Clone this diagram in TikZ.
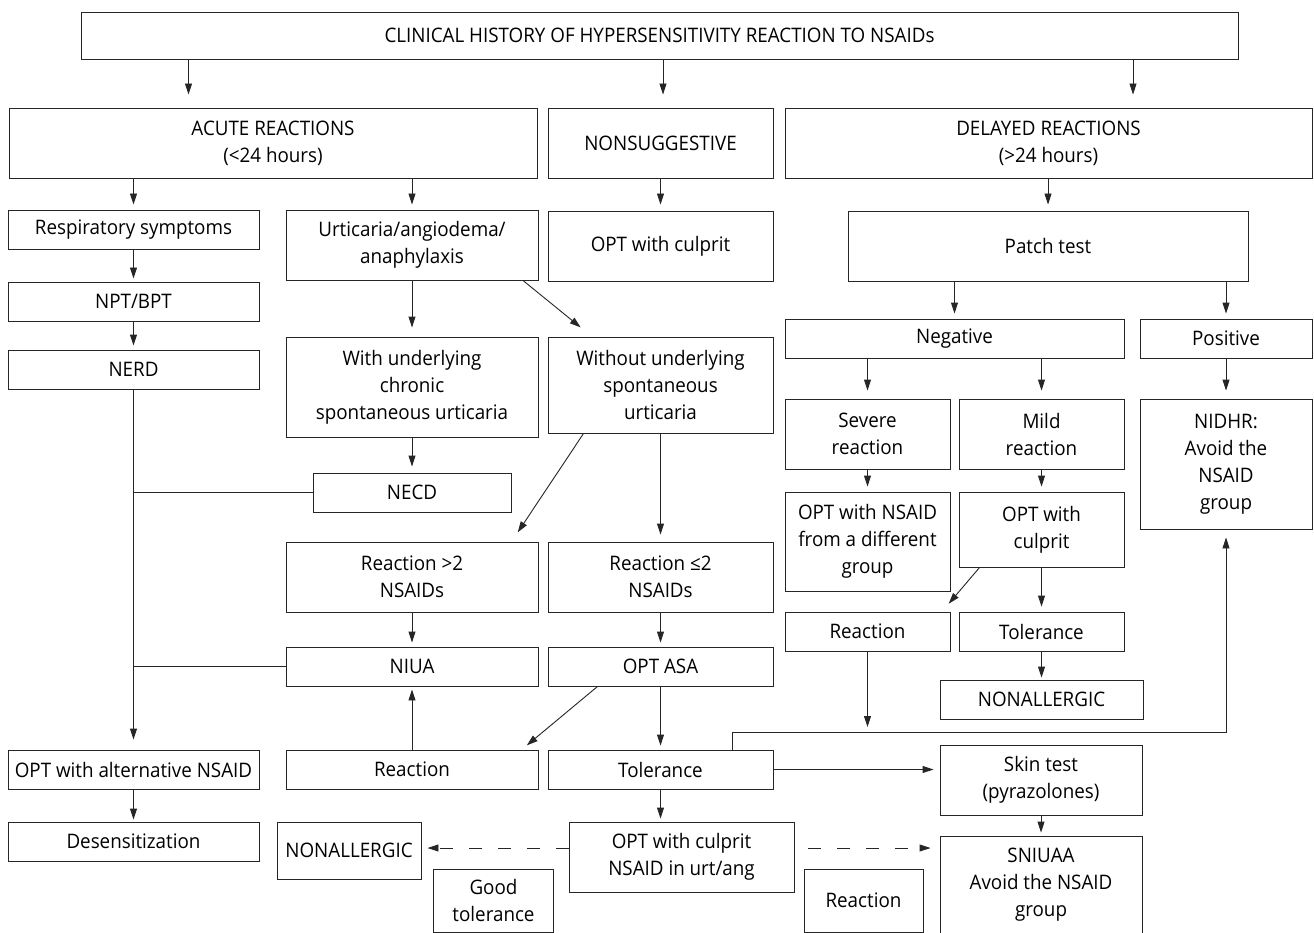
\documentclass[tikz,border=0pt]{standalone}
\usepackage{fontspec}
\setmainfont[FakeStretch=0.94]{Open Sans}
\usetikzlibrary{arrows.meta}
\begin{document}
\begin{tikzpicture}[x=1pt,y=-1pt,
  box/.style={draw=black!85, line width=0.9pt, inner sep=0pt, align=center, font=\fontsize{20}{27}\selectfont},
  wh/.style n args={2}{minimum width=#1pt, minimum height=#2pt},
  arr/.style={draw=black!85, line width=0.9pt, -{Triangle[length=11pt,width=7pt]}, shorten >=5pt},
  ln/.style={draw=black!85, line width=0.9pt},
  dsh/.style={arr, dash pattern=on 13pt off 16pt}]
\useasboundingbox (0,0) rectangle (1314,933);
\fill[white] (0,0) rectangle (1314,933);
% helper coordinates
\coordinate (xa1) at (188.5,0);
\coordinate (xa2) at (663,0);
\coordinate (xa3) at (1133,0);
\coordinate (yd) at (0,848);
% nodes
\node[box,wh={1157}{47}] (top) at (659.5,35.5) {CLINICAL HISTORY OF HYPERSENSITIVITY REACTION TO NSAIDs};
\node[box,wh={528}{70}] (acute) at (273,143) {ACUTE REACTIONS\\(<24 hours)};
\node[box,wh={225}{70}] (nonsugg) at (660.5,143) {NONSUGGESTIVE};
\node[box,wh={527}{70}] (delayed) at (1048.5,143) {DELAYED REACTIONS\\(>24 hours)};
\node[box,wh={251}{39}] (resp) at (133.5,229.5) {Respiratory symptoms};
\node[box,wh={252}{70}] (urt) at (412,245) {Urticaria/angiodema/\\anaphylaxis};
\node[box,wh={225}{70}] (optc) at (660.5,246) {OPT with culprit};
\node[box,wh={400}{70}] (patch) at (1048,246) {Patch test};
\node[box,wh={251}{39}] (npt) at (133.5,301.5) {NPT/BPT};
\node[box,wh={251}{39}] (nerd) at (133.5,369.5) {NERD};
\node[box,wh={339}{39}] (neg) at (954.5,338.5) {Negative};
\node[box,wh={172}{39}] (pos) at (1226,338.5) {Positive};
\node[box,wh={252}{100}] (withu) at (412,387) {With underlying\\chronic\\spontaneous urticaria};
\node[box,wh={225}{96}] (without) at (660.5,385) {Without underlying\\spontaneous\\urticaria};
\node[box,wh={165}{70}] (severe) at (867.5,434) {Severe\\reaction};
\node[box,wh={165}{70}] (mild) at (1041.5,434) {Mild\\reaction};
\node[box,wh={172}{130}] (nidhr) at (1226,464) {NIDHR:\\Avoid the\\NSAID\\group};
\node[box,wh={198}{39}] (necd) at (412,492.5) {NECD};
\node[box,wh={165}{99}] (optns) at (867.5,541.5) {OPT with NSAID\\from a different\\group};
\node[box,wh={165}{75}] (optcm) at (1041.5,529.5) {OPT with\\culprit};
\node[box,wh={252}{70}] (gt2) at (412,577) {Reaction >2\\NSAIDs};
\node[box,wh={225}{70}] (le2) at (660.5,577) {Reaction ≤2\\NSAIDs};
\node[box,wh={165}{39}] (reactR) at (867.5,631.5) {Reaction};
\node[box,wh={165}{39}] (tolR) at (1041.5,631.5) {Tolerance};
\node[box,wh={252}{39}] (niua) at (412,666.5) {NIUA};
\node[box,wh={225}{39}] (optasa) at (660.5,666.5) {OPT ASA};
\node[box,wh={203}{39}] (nonallR) at (1041.5,699.5) {NONALLERGIC};
\node[box,wh={251}{39}] (optalt) at (133.5,769.5) {OPT with alternative NSAID};
\node[box,wh={252}{39}] (reactM) at (412,769.5) {Reaction};
\node[box,wh={225}{39}] (tolM) at (660.5,769.5) {Tolerance};
\node[box,wh={202}{70}] (skin) at (1041,780) {Skin test\\(pyrazolones)};
\node[box,wh={251}{39}] (desens) at (133.5,841.5) {Desensitization};
\node[box,wh={144}{57}] (nonallL) at (349,850.5) {NONALLERGIC};
\node[box,wh={225}{70}] (optcu) at (681.5,857) {OPT with culprit\\NSAID in urt/ang};
\node[box,wh={202}{97}] (sniuaa) at (1041,884.5) {SNIUAA\\Avoid the NSAID\\group};
\node[box,wh={120}{63}] (goodtol) at (493.5,900.5) {Good\\tolerance};
\node[box,wh={119}{63}] (reactB) at (863.5,900.5) {Reaction};
\coordinate (rfree) at (867.5,727);
% connectors from top
\draw[arr, shorten >=13pt] (top.south -| xa1) -- (acute.north -| xa1);
\draw[arr, shorten >=13pt] (top.south -| xa2) -- (nonsugg.north -| xa2);
\draw[arr, shorten >=13pt] (top.south -| xa3) -- (delayed.north -| xa3);
% acute branch
\draw[arr] (acute.south -| resp.north) -- (resp.north);
\draw[arr] (acute.south -| urt.north) -- (urt.north);
\draw[arr, shorten >=3pt] (resp) -- (npt);
\draw[arr, shorten >=4pt] (npt) -- (nerd);
\draw[arr, shorten >=10pt] (nerd) -- (optalt);
\draw[arr, shorten >=2pt] (optalt) -- (desens);
\draw[ln] (necd.west) -- (nerd.south |- necd.west);
\draw[ln] (niua.west) -- (nerd.south |- niua.west);
\draw[arr, shorten >=9pt] (urt) -- (withu);
\draw[arr] ([xshift=-15.5pt]urt.south east) -- ([xshift=37pt,yshift=6pt]without.north west);
\draw[arr, shorten >=6pt] (withu) -- (necd);
\draw[arr] ([xshift=36pt]without.south west) -- ([xshift=-23.5pt,yshift=5pt]gt2.north east);
\draw[arr, shorten >=7pt] (without) -- (le2);
\draw[arr, shorten >=4pt] (gt2) -- (niua);
\draw[arr, shorten >=4pt] (le2) -- (optasa);
\draw[arr, shorten >=4pt] (optasa) -- (tolM);
\draw[arr] ([xshift=50pt]optasa.south west) -- ([xshift=-15.5pt,yshift=1pt]reactM.north east);
\draw[arr, shorten >=3pt] (reactM) -- (niua);
\draw[arr, shorten >=3pt] (tolM.south) -- (tolM.south |- optcu.north);
\draw[arr, shorten >=6pt] (tolM.east) -- (tolM.east -| skin.west);
\draw[arr, shorten >=8pt] ([xshift=-41pt]tolM.north east) -- ++(0,-17) -| (nidhr.south);
\draw[dsh, shorten >=6pt] (optcu.west |- yd) -- (nonallL.east |- yd);
\draw[dsh, shorten <=14pt, shorten >=9pt] (optcu.east |- yd) -- (sniuaa.west |- yd);
% nonsuggestive
\draw[arr, shorten >=6pt] (nonsugg) -- (optc);
% delayed branch
\draw[arr, shorten >=6pt] (delayed.south -| patch.north) -- (patch.north);
\draw[arr] (patch.south -| neg.north) -- (neg.north);
\draw[arr] (patch.south -| pos.north) -- (pos.north);
\draw[arr, shorten >=8pt] (neg.south -| severe.north) -- (severe.north);
\draw[arr, shorten >=8pt] (neg.south -| mild.north) -- (mild.north);
\draw[arr, shorten >=8pt] (pos) -- (nidhr);
\draw[arr] (severe) -- (optns);
\draw[arr] (mild) -- (optcm);
\draw[arr] (optcm.south) -- (optcm.south |- tolR.north);
\draw[arr] ([xshift=21pt]optcm.south west) -- ([xshift=-5pt,yshift=4pt]reactR.north east);
\draw[arr, shorten >=2pt] (tolR) -- (nonallR);
\draw[arr, shorten >=0pt] (reactR.south) -- (rfree);
\draw[arr, shorten >=3pt] (skin) -- (sniuaa);
\end{tikzpicture}
\end{document}
